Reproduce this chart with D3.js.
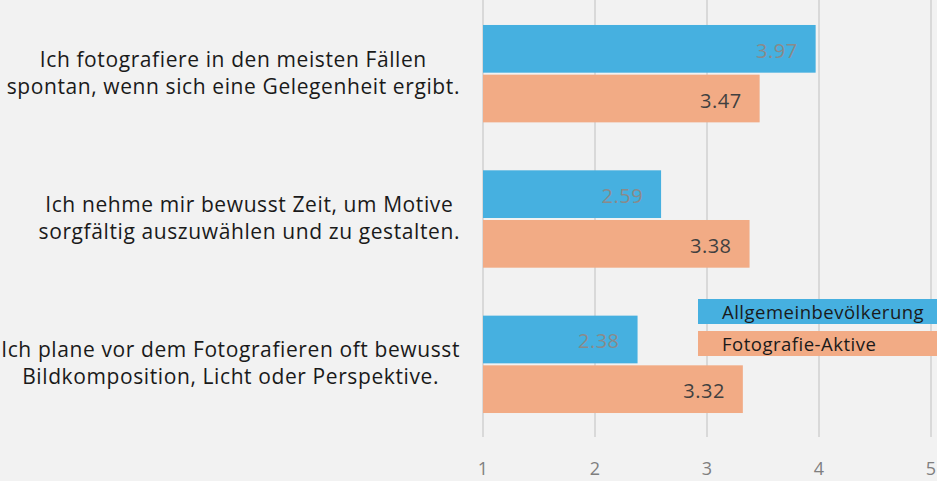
<!DOCTYPE html>
<html>
<head>
<meta charset="utf-8">
<script src="https://cdn.jsdelivr.net/npm/d3@7"></script>
<style>
  body { margin: 0; background: #f2f2f2; overflow: hidden; }
  svg { display: block; font-family: "Open Sans", "Noto Sans", sans-serif; }
</style>
</head>
<body>
<svg id="chart" width="937" height="481"></svg>
<script>
var categories = [
  ["Ich fotografiere in den meisten Fällen", "spontan, wenn sich eine Gelegenheit ergibt."],
  ["Ich nehme mir bewusst Zeit, um Motive", "sorgfältig auszuwählen und zu gestalten."],
  ["Ich plane vor dem Fotografieren oft bewusst", "Bildkomposition, Licht oder Perspektive."]
];
var seriesNames = ["Allgemeinbevölkerung", "Fotografie-Aktive"];
var allgemein = [3.97, 2.59, 2.38];
var aktive = [3.47, 3.38, 3.32];
var ticks = [1, 2, 3, 4, 5];

var colors = ["#46b0e0", "#f2ab85"];
var labelColors = ["#8a8a8a", "#404040"];

var svg = d3.select("#chart");
var x = d3.scaleLinear().domain([1, 5]).range([483, 931]);
var y = d3.scaleBand().domain(d3.range(categories.length)).range([1, 437]).paddingInner(0.33).paddingOuter(0.165);
var sub = d3.scaleBand().domain([0, 1]).range([0, y.bandwidth()]).paddingInner(0.04);

// gridlines
svg.append("g").selectAll("line").data(ticks).enter().append("line")
  .attr("x1", d => x(d)).attr("x2", d => x(d))
  .attr("y1", 0).attr("y2", 437)
  .attr("stroke", "#d9d9d9").attr("stroke-width", 2);

// tick labels
svg.append("g").selectAll("text").data(ticks).enter().append("text")
  .attr("x", d => x(d)).attr("y", 475)
  .attr("text-anchor", "middle")
  .attr("font-size", 18).attr("fill", "#7f7f7f")
  .text(d => d);

var series = [allgemein, aktive];
series.forEach(function (vals, s) {
  var g = svg.append("g");
  g.selectAll("rect").data(vals).enter().append("rect")
    .attr("x", x(1))
    .attr("y", (d, i) => y(i) + sub(s))
    .attr("width", d => x(d) - x(1))
    .attr("height", sub.bandwidth())
    .attr("fill", colors[s]);
  g.selectAll("text").data(vals).enter().append("text")
    .attr("x", d => x(d) - 18)
    .attr("y", (d, i) => y(i) + sub(s) + sub.bandwidth() / 2 + 9)
    .attr("text-anchor", "end")
    .attr("font-size", 20).attr("letter-spacing", 0.5).attr("fill", labelColors[s])
    .text(d => d.toFixed(2));
});

// category labels, centred block with right edge at 460
categories.forEach(function (lines, i) {
  var t = svg.append("text")
    .attr("font-size", 21).attr("letter-spacing", 0.6).attr("fill", "#1a1a1a")
    .attr("text-anchor", "middle");
  var spans = lines.map(function (l, k) {
    return t.append("tspan").attr("y", y(i) + y.bandwidth() / 2 - 7 + k * 27).text(l);
  });
  var maxW = d3.max(spans, s => s.node().getComputedTextLength());
  spans.forEach(s => s.attr("x", 460 - maxW / 2));
});

// legend
var legend = svg.append("g");
seriesNames.forEach(function (name, s) {
  legend.append("rect")
    .attr("x", 698).attr("y", 299 + s * 32)
    .attr("width", 260).attr("height", 25)
    .attr("fill", colors[s]);
  legend.append("text")
    .attr("x", 722).attr("y", 299 + s * 32 + 20)
    .attr("font-size", 18.5).attr("letter-spacing", 0.5).attr("fill", "#1a1a1a")
    .text(name);
});
</script>
</body>
</html>
